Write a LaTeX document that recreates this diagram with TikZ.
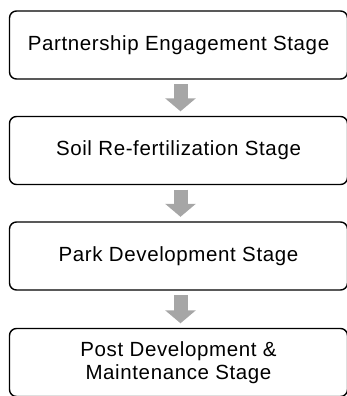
\documentclass[tikz,border=0pt]{standalone}
\usepackage{fontspec}
\setmainfont{Liberation Sans}[LetterSpace=3]
\usetikzlibrary{arrows.meta,calc}

\begin{document}
\begin{tikzpicture}[x=1pt,y=-1pt,
    stage/.style={draw=black, line width=1.4pt, rounded corners=7pt, minimum width=338pt, minimum height=68pt, align=center, font=\fontsize{20.5}{22.5}\selectfont},
    flow/.style={-{Triangle[width=30pt,length=13pt]}, draw=black!35, line width=14pt, shorten <=4.5pt, shorten >=4.5pt}]
          \useasboundingbox (0,0) rectangle (347,396);
          \node[stage] (Partnership) at (178.5,45) {Partnership Engagement Stage};
          \node[stage] (Soil) at (178.5,150.5) {Soil Re-fertilization Stage};
          \node[stage] (Park) at (178.5,256) {Park Development Stage};
          \node[stage] (Maintenance) at (178.5,362.5) {Post Development \&\\Maintenance Stage};

          \draw[flow] ([xshift=2pt]Partnership.south) to ([xshift=2pt]Soil.north);
          \draw[flow] ([xshift=2pt]Soil.south) to ([xshift=2pt]Park.north);
          \draw[flow] ([xshift=2pt]Park.south) to ([xshift=2pt]Maintenance.north);
        \end{tikzpicture}
\end{document}
